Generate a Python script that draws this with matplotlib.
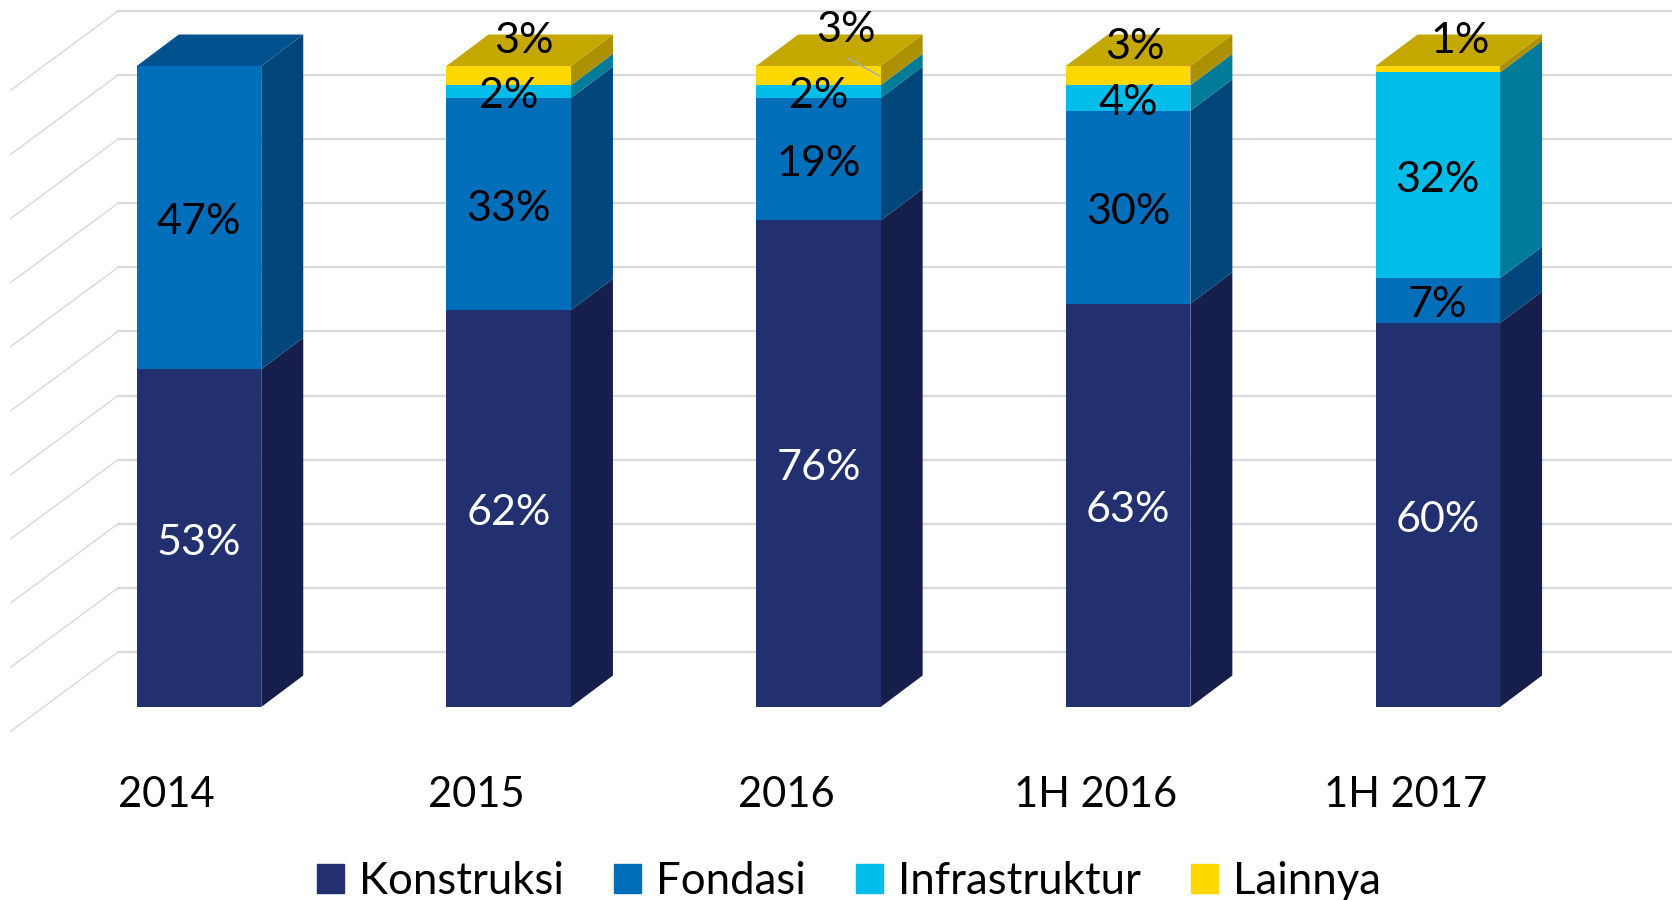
import numpy as np
import matplotlib.pyplot as plt
from matplotlib.patches import Patch

plt.rcParams['font.family'] = ['Lato', 'DejaVu Sans']

categories = ['2014', '2015', '2016', '1H 2016', '1H 2017']
series_names = ['Konstruksi', 'Fondasi', 'Infrastruktur', 'Lainnya']
# heights, the labels show them rounded
konstruksi = [52.7, 61.9, 75.9, 62.9, 59.9]
fondasi = [47.3, 33.1, 19.1, 30.1, 7.0]
infrastruktur = [0, 2, 2, 4, 32.1]
lainnya = [0, 3, 3, 3, 1]
grid_values = np.arange(0, 101, 10)

values = np.array([konstruksi, fondasi, infrastruktur, lainnya], dtype=float)
colors = ['#223070', '#006EB8', '#00BCE8', '#FFD800']
side_colors = ['#161F4B', '#00467A', '#007C99', '#AB9000']
top_colors = ['#1A2656', '#00528F', '#0090B2', '#C4A800']

W, H = 1672, 900
PX_X = 309.7    # pixels between two bars
PX_Y = 6.41     # pixels for one percent
X0 = 199.0      # pixel centre of first bar
Y0 = 707.0      # pixel of the 0 level

bar_w = 124.5 / PX_X
dx = 42 / PX_X          # depth of the bars
dy = 31.5 / PX_Y
wall_y = 55 / PX_Y      # back wall shift
wall_left = (118 - X0) / PX_X
floor_left = (11 - X0) / PX_X
floor_y = -24 / PX_Y

fig = plt.figure(figsize=(W / 100, H / 100), dpi=100)
ax = fig.add_axes([0, 1 - Y0 / H, 1, Y0 / H])
ax.set_xlim(-X0 / PX_X, (W - X0) / PX_X)
ax.set_ylim(0, Y0 / PX_Y)
for s in ax.spines.values():
    s.set_visible(False)
ax.set_yticks([])

# wall and floor grid
for g in grid_values:
    ax.plot([wall_left, (W - X0) / PX_X], [g + wall_y, g + wall_y], color='#D9D9D9', lw=1.6, zorder=1, clip_on=False)
    ax.plot([floor_left, wall_left], [g + floor_y, g + wall_y], color='#D9D9D9', lw=1.0, zorder=1, clip_on=False)

x = np.arange(len(categories))
bottom = np.zeros(len(categories))
for k in range(len(series_names)):
    ax.bar(x, values[k], bar_w, bottom=bottom, color=colors[k], zorder=3)
    for i in x:
        if values[k][i] == 0:
            continue
        r = i + bar_w / 2
        y1 = bottom[i]
        y2 = y1 + values[k][i]
        ax.fill([r, r + dx, r + dx, r], [y1, y1 + dy, y2 + dy, y2], color=side_colors[k], lw=0, zorder=2)
    bottom = bottom + values[k]

# top faces take the colour of the last non empty segment
for i in x:
    k = np.nonzero(values[:, i])[0][-1]
    l = i - bar_w / 2
    r = i + bar_w / 2
    t = bottom[i]
    ax.fill([l, r, r + dx, l + dx], [t, t, t + dy, t + dy], color=top_colors[k], lw=0, zorder=2)

# data labels, the small top segments are moved by hand in the source
label_shift = {(1, 3): (15, 38), (2, 3): (28, 49), (3, 3): (7, 32), (4, 3): (22, 32)}
bottom = np.zeros(len(categories))
for k in range(len(series_names)):
    for i in x:
        v = values[k][i]
        if v == 0:
            continue
        sx, sy = label_shift.get((int(i), k), (0, -1))
        ax.text(i + sx / PX_X, bottom[i] + v / 2 + sy / PX_Y, f'{v:.0f}%',
                ha='center', va='center_baseline', fontsize=31,
                color='white' if k == 0 else 'black', zorder=5)
    bottom = bottom + values[k]

# leader line of the 3% label in 2016
ax.plot([(847.5 - X0) / PX_X, (879.6 - X0) / PX_X],
        [(Y0 - 58) / PX_Y, (Y0 - 76) / PX_Y], color='#A8A8B8', lw=1.0, zorder=4)

# category labels sit left of the bars because of the depth
ax.set_xticks(x - 32.5 / PX_X)
ax.set_xticklabels(categories, fontsize=30)
ax.tick_params(axis='x', length=0, pad=50)

handles = [Patch(color=c, label=n) for c, n in zip(colors, series_names)]
fig.legend(handles=handles, loc='lower center', bbox_to_anchor=(849 / W, -0.002), ncol=4, frameon=False,
           fontsize=31.5, handlelength=0.62, handleheight=0.62, handletextpad=0.34, columnspacing=1.15,
           borderpad=0, borderaxespad=0)

fig.savefig('out.png', dpi=100)
